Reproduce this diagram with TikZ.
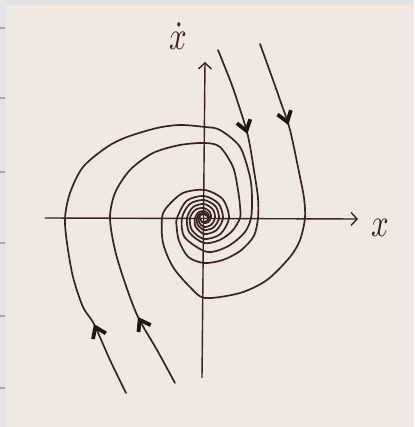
\documentclass[tikz,border=0pt]{standalone}
\usetikzlibrary{arrows.meta}
\definecolor{paper}{HTML}{EFE8E3}
\definecolor{margin}{HTML}{E4E4E4}
\definecolor{ink}{HTML}{3B2420}
\definecolor{inkdark}{HTML}{1E1412}
\definecolor{ticky}{HTML}{A8A8A8}
\begin{document}
\begin{tikzpicture}[x=1pt,y=1pt,
  traj/.style={draw=ink, line width=1.7pt, line cap=round, line join=round},
  axisline/.style={draw=ink, line width=1.4pt, -{Straight Barb[length=6pt,width=13pt]}},
  flowtip/.style={draw=inkdark, line width=1.7pt, -{Straight Barb[length=10pt,width=14pt,line width=3.8pt]}},
  lbl/.style={text=ink, inner sep=0pt, anchor=base},
  marginline/.style={draw=ticky, line width=1.8pt}]
\useasboundingbox (-204,-209) rectangle (210,218);
% background: grey margin and paper
\fill[margin] (-204,-209) rectangle (210,218);
\fill[paper] (-198,-209) rectangle (210,213);
\foreach \yy in {190,120,46,-25,-98,-170}
  \draw[marginline] (-204,\yy) -- (-199,\yy);
% axes
\coordinate (xs) at (-159,0);
\coordinate (xe) at (154,-1);
\coordinate (ys) at (-2,-160);
\coordinate (ye) at (1,156);
\draw[axisline] (xs) -- (xe);
\draw[axisline] (ys) -- (ye);
\node[lbl] (xlab) at (176,-19) {\scalebox{3.1}[4]{$x$}};
\node[lbl] (xdotlab) at (-26,168) {\scalebox{3.1}[4]{$\dot{x}$}};
% trajectory 1 (outer, from top right)
\draw[traj] plot[smooth] coordinates {(56,174) (69,138) (76,118) (86,88) (96,41) (100,20) (101,0)
  (96,-22) (86,-39) (63,-62) (36,-75) (1,-80) (-14,-69) (-31,-49) (-41,-25) (-42,0)
  (-37,11) (-21,25) (1,28) (-315:26.5) (-360:25) (-405:22.9) (-450:21) (-495:17.1)
  (-540:14) (-585:11.8) (-630:10) (-675:8.4) (-720:7) (-765:5.9) (-810:5) (-855:4.2) (-900:3.5)};
% trajectory 2 (inner, from top right)
\draw[traj] plot[smooth] coordinates {(14,168) (26,138) (33,118) (44,82) (51,41) (54,20) (54,0)
  (-20:53) (-42:49) (-66:46) (-90:45) (-112:42) (-137:34) (-160:29) (-180:27)
  (-225:24.4) (-270:22) (-315:20.4) (-360:19) (-405:17.4) (-450:16) (-495:12)
  (-540:9) (-585:7.9) (-630:7) (-675:5.9) (-720:5) (-765:4.2) (-810:3.5)};
% trajectory 3 (outer, from bottom left)
\draw[traj] plot[smooth] coordinates {(-78,-175) (-94,-142) (-110,-106) (-121,-89) (-131,-59)
  (-137,-25) (-139,0) (-134,25) (-121,51) (-97,71) (-77,81) (-47,90) (-24,93) (1,91)
  (16,88) (36,71) (46,41) (48,20) (47,0) (-20:43) (-50:37) (-85:34)
  (-135:27.3) (-180:22) (-225:19.9) (-270:18) (-315:16.4) (-360:15) (-405:13.4)
  (-450:12) (-495:9.2) (-540:7) (-585:6) (-630:5) (-675:4.2) (-720:3.5)};
% trajectory 4 (inner, from bottom left)
\draw[traj] plot[smooth] coordinates {(-29,-165) (-47,-132) (-66,-99) (-79,-65) (-89,-32)
  (-94,0) (-89,25) (-74,48) (-51,65) (-24,73) (1,75) (16,71) (29,51) (34,28) (36,12) (36,0)
  (-25:31) (-55:27) (-90:25)
  (-135:20.6) (-180:17) (-225:15.4) (-270:14) (-315:12.4) (-360:11) (-405:9.9)
  (-450:9) (-495:6.7) (-540:5) (-585:4.5) (-630:4) (-675:3.3)};
% direction arrowheads
\coordinate (a1s) at (83,97);   \coordinate (a1e) at (84.3,93);
\coordinate (a2s) at (42.2,88); \coordinate (a2e) at (43.4,84);
\coordinate (a3s) at (-108.4,-109.6); \coordinate (a3e) at (-110,-106);
\coordinate (a4s) at (-64,-102.5); \coordinate (a4e) at (-66,-99);
\draw[flowtip] (a1s) -- (a1e);
\draw[flowtip] (a2s) -- (a2e);
\draw[flowtip] (a3s) -- (a3e);
\draw[flowtip] (a4s) -- (a4e);
\end{tikzpicture}
\end{document}
